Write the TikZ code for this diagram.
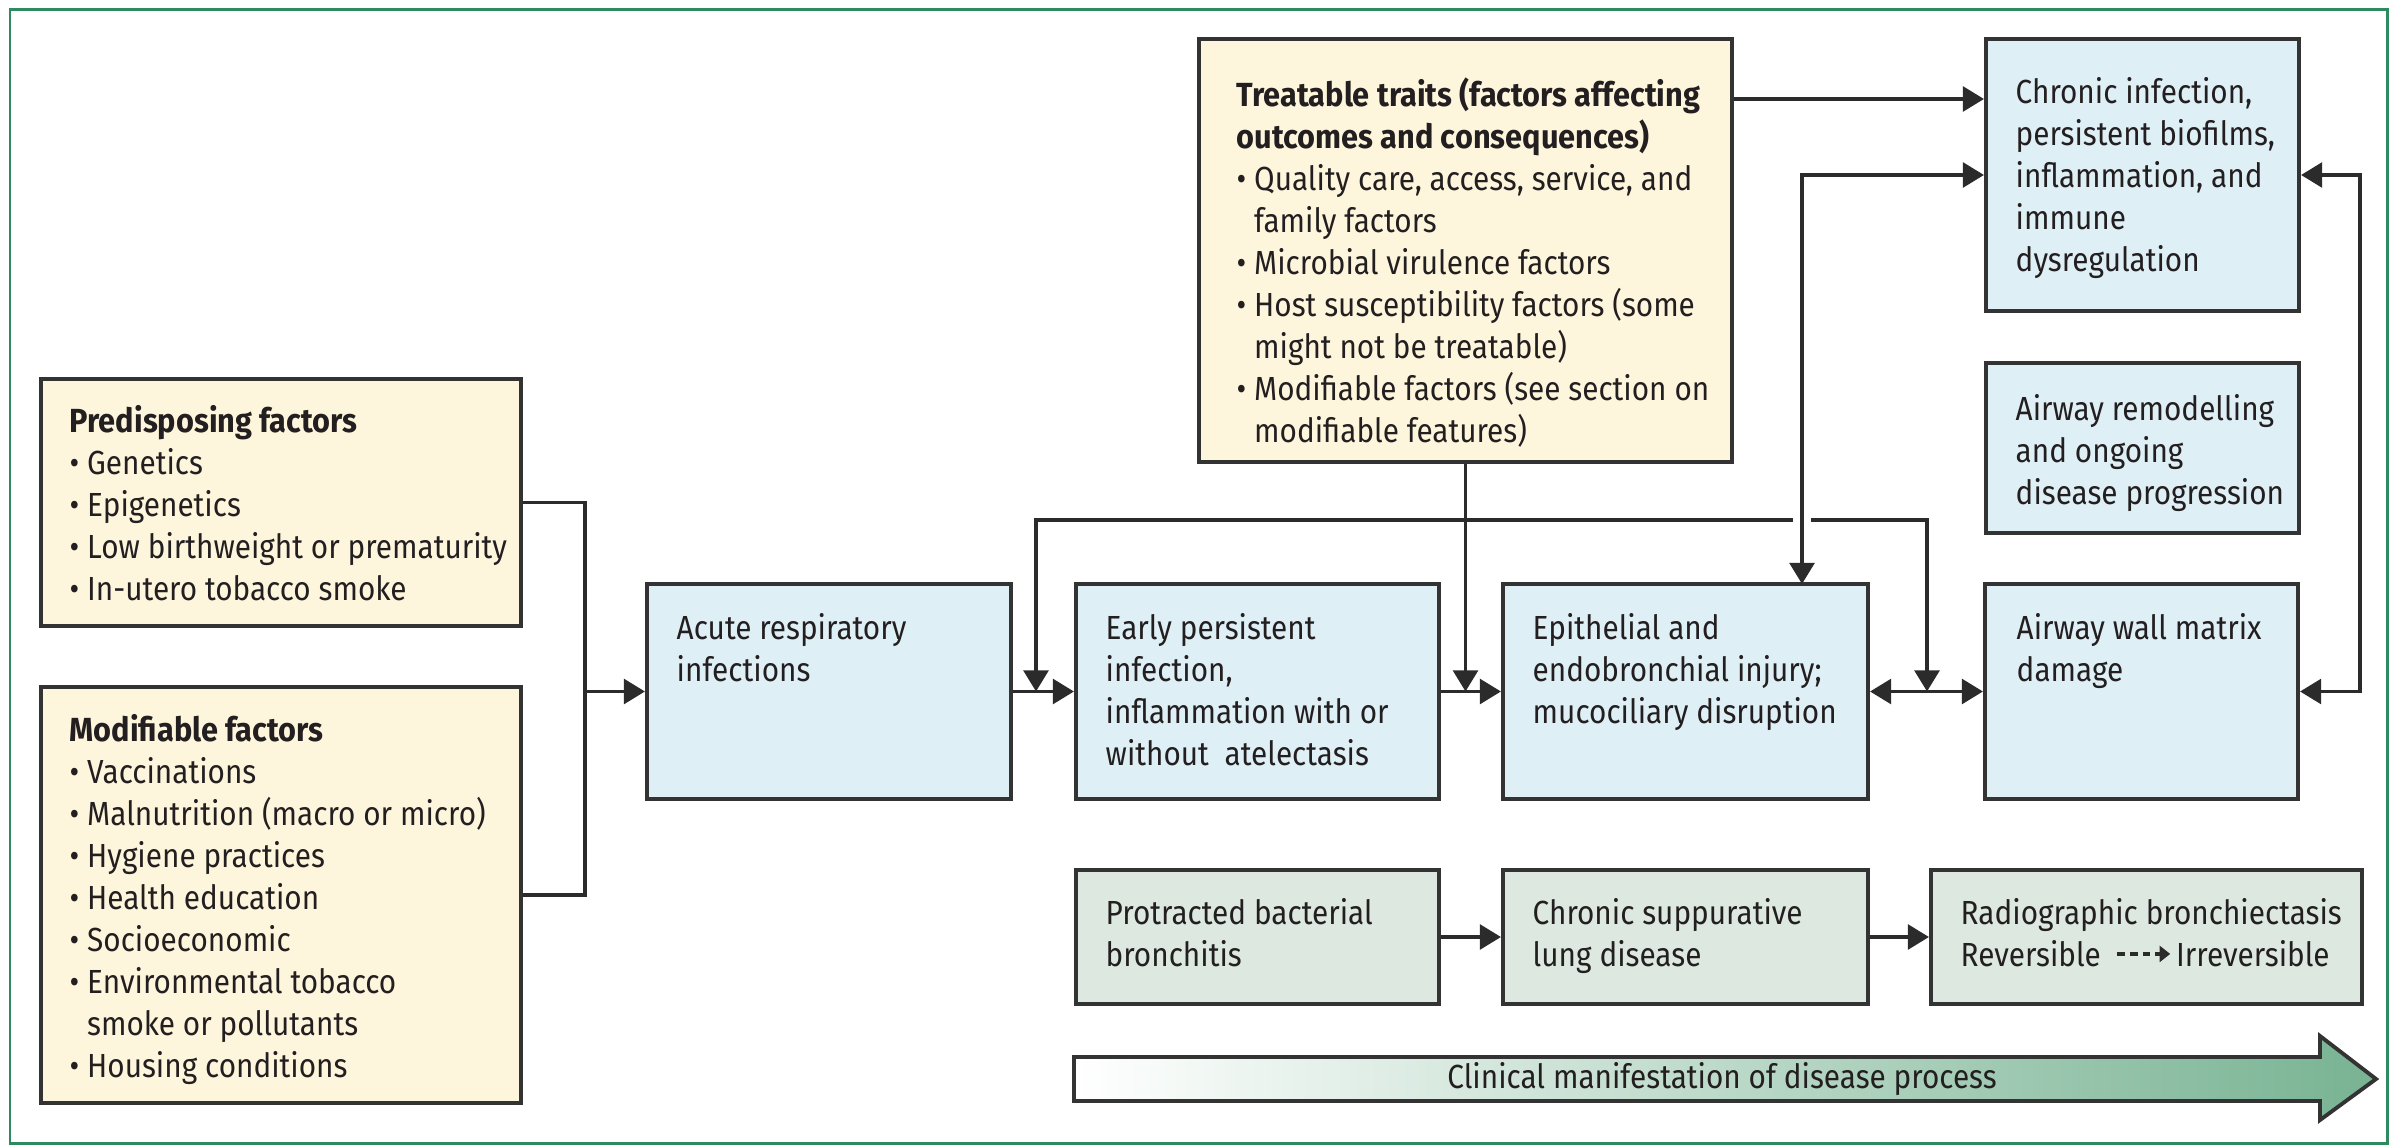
\documentclass[tikz,border=0pt]{standalone}
\usepackage{fontspec}
\setmainfont{Fira Sans}[FakeStretch=0.89, BoldFeatures={FakeStretch=0.92}]
\usetikzlibrary{arrows.meta,fit,calc}
\definecolor{cYellow}{HTML}{FDF6DC}
\definecolor{cBlue}{HTML}{DFEFF6}
\definecolor{cGreen}{HTML}{DCE8E0}
\definecolor{cBorder}{HTML}{333333}
\definecolor{cLine}{HTML}{2B2B2B}
\definecolor{cText}{HTML}{231F20}
\definecolor{cFrame}{HTML}{2F8A60}
\definecolor{cArrowGreen}{HTML}{78B393}
\newcommand{\bulind}{\phantom{•\ }}
\begin{document}
\begin{tikzpicture}[x=0.01cm,y=-0.01cm,
  font=\fontsize{9.5}{11.95}\selectfont,
  box/.style={draw=cBorder, line width=1.15pt, inner sep=0pt},
  ybox/.style={box, fill=cYellow},
  bbox/.style={box, fill=cBlue},
  gbox/.style={box, fill=cGreen},
  txt/.style={anchor=north west, align=left, inner sep=0pt, text=cText},
  conn/.style={draw=cLine, line width=1.1pt},
  arr/.style={conn, -{Triangle[length=6pt,width=7pt]}},
  darr/.style={conn, {Triangle[length=6pt,width=7pt]}-{Triangle[length=6pt,width=7pt]}},
  dotarr/.style={draw=cLine, line width=1.2pt, dash pattern=on 2.2pt off 1.4pt, -{Triangle[length=3pt,width=4.5pt]}}
]
\useasboundingbox (0,0) rectangle (2394,1146);
\fill[white] (0,0) rectangle (2394,1146);
\draw[cFrame, line width=0.85pt] (10,10) rectangle (2387,1143);

% boxes
\node[ybox, fit={(41,379) (521,626)}] (pred) {};
\node[ybox, fit={(41,687) (521,1103)}] (mod) {};
\node[ybox, fit={(1199,39) (1732,462)}] (treat) {};
\node[bbox, fit={(1986,39) (2299,311)}] (chron) {};
\node[bbox, fit={(1986,363) (2299,533)}] (remod) {};
\node[bbox, fit={(647,584) (1011,799)}] (acute) {};
\node[bbox, fit={(1076,584) (1439,799)}] (early) {};
\node[bbox, fit={(1503,584) (1868,799)}] (epi) {};
\node[bbox, fit={(1985,584) (2298,799)}] (airway) {};
\node[gbox, fit={(1076,870) (1439,1004)}] (prot) {};
\node[gbox, fit={(1503,870) (1868,1004)}] (csup) {};
\node[gbox, fit={(1931,870) (2362,1004)}] (radio) {};

% texts
\node[txt] (predtxt) at (69,405) {\textbf{Predisposing factors}\\
• Genetics\\
• Epigenetics\\
• Low birthweight or prematurity\\
• In-utero tobacco smoke};
\node[txt] (modtxt) at (69,714) {\textbf{Modifiable factors}\\
• Vaccinations\\
• Malnutrition (macro or micro)\\
• Hygiene practices\\
• Health education\\
• Socioeconomic\\
• Environmental tobacco\\
\bulind smoke or pollutants\\
• Housing conditions};
\node[txt] (treattxt) at (1236,77) {\textbf{Treatable traits (factors affecting}\\
\textbf{outcomes and consequences)}\\
• Quality care, access, service, and\\
\bulind family factors\\
• Microbial virulence factors\\
• Host susceptibility factors (some\\
\bulind might not be treatable)\\
• Modifiable factors (see section on\\
\bulind modifiable features)};
\node[txt] (chrontxt) at (2015,77) {Chronic infection,\\ persistent biofilms,\\ inflammation, and\\ immune\\ dysregulation};
\node[txt] (remodtxt) at (2015,394) {Airway remodelling\\ and ongoing\\ disease progression};
\node[txt] (acutetxt) at (676,613) {Acute respiratory\\ infections};
\node[txt] (earlytxt) at (1105,613) {Early persistent\\ infection,\\ inflammation with or\\ without\ \ atelectasis};
\node[txt] (epitxt) at (1532,613) {Epithelial and\\ endobronchial injury;\\ mucociliary disruption};
\node[txt] (airwaytxt) at (2016,613) {Airway wall matrix\\ damage};
\node[txt] (prottxt) at (1105,898) {Protracted bacterial\\ bronchitis};
\node[txt] (csuptxt) at (1532,898) {Chronic suppurative\\ lung disease};
\node[txt] (radiotxt) at (1960,898) {Radiographic bronchiectasis};
\node[txt] (rev) at (1960,940) {Reversible};
\node[txt, anchor=west] (irrev) at ($(rev.east)+(74,0)$) {Irreversible};
\draw[dotarr, shorten <=4.5pt, shorten >=1.5pt] (rev.east) -- (irrev.west);

% left connectors
\coordinate (j1) at (585,691.5);
\draw[conn] (pred.east) -| (j1) |- (mod.east);
\draw[arr] (j1) -- (acute.west);

% main chain
\draw[arr] (acute.east) -- (early.west);
\draw[arr] (early.east) -- (epi.west);
\draw[darr] (epi.east) -- (airway.west);

% loop between chain connectors
\coordinate (la) at (1036,691.5);
\coordinate (lb) at (1927,691.5);
\draw[darr] (la) -- (1036,520) -- (1927,520) -- (lb);

% treatable down
\draw[arr] (treat.south) -- (treat.south |- early.east);

% treatable to chronic
\coordinate (tc) at (0,99);
\draw[arr] (treat.east |- tc) -- (chron.west |- tc);

% chronic <-> epithelial (crossing gap)
\coordinate (epitop) at (1802,584);
\draw[white, line width=5pt] (1802,506) -- (1802,534);
\draw[darr] (epitop) |- (chron.west);

% right loop
\coordinate (rl) at (2360,175);
\draw[darr] (airway.east) -| (rl) -- (chron.east);

% bottom chain
\draw[arr] (prot.east) -- (csup.west);
\draw[arr] (csup.east) -- (radio.west);

% big gradient arrow
\path[draw=cBorder, line width=1.1pt, left color=white, right color=cArrowGreen]
  (1074,1057) -- (2320,1057) -- (2320,1036) -- (2376,1079) -- (2320,1120) -- (2320,1101) -- (1074,1101) -- cycle;
\node[inner sep=0pt, text=cText] (clin) at (1722,1079) {Clinical manifestation of disease process};
\end{tikzpicture}
\end{document}
